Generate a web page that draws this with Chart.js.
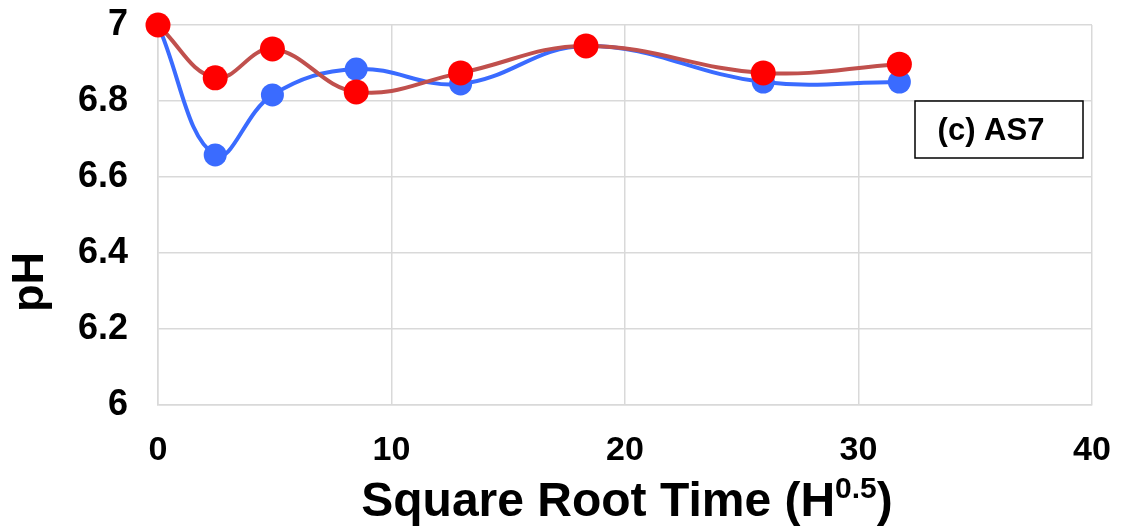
<!DOCTYPE html>
<html>
<head>
<meta charset="utf-8">
<script src="https://cdn.jsdelivr.net/npm/chart.js@4"></script>
<style>
    html, body { margin: 0; padding: 0; background: #fff; }
    #wrap { width: 1123px; height: 530px; }
</style>
</head>
<body>
<div id="wrap"><canvas id="PhChart" width="1123" height="530"></canvas></div>
<script>
// square root time (h^0.5)
const sqrtTime = [0, 2.45, 4.90, 8.49, 12.96, 18.33, 25.92, 31.75];
const phBlue = [7.00, 6.658, 6.816, 6.884, 6.845, 6.945, 6.850, 6.850];
const phRed = [7.00, 6.861, 6.937, 6.824, 6.874, 6.945, 6.874, 6.897];
const yTicks = ["6", "6.2", "6.4", "6.6", "6.8", "7"];
const xTicks = ["0", "10", "20", "30", "40"];
const panelLabel = "(c) AS7";

const FONT = "'Liberation Sans', Arial, sans-serif";

function toPoints(xs, ys) {
    return xs.map(function (x, i) { return { x: x, y: ys[i] }; });
}

// axis titles (x has a superscript) + the panel label box
const extrasPlugin = {
    id: "extras",
    afterDraw: function (chart) {
        const ctx = chart.ctx;
        const area = chart.chartArea;
        ctx.save();
        // x title
        const main = "Square Root Time (H";
        const sup = "0.5";
        const tail = ")";
        ctx.font = "bold 48px " + FONT;
        const wMain = ctx.measureText(main).width;
        const wTail = ctx.measureText(tail).width;
        ctx.font = "bold 30px " + FONT;
        const wSup = ctx.measureText(sup).width;
        const total = wMain + wSup + wTail;
        let x = (area.left + area.right) / 2 - total / 2 + 2;
        const base = 516;
        ctx.fillStyle = "#000";
        ctx.textBaseline = "alphabetic";
        ctx.textAlign = "left";
        ctx.font = "bold 48px " + FONT;
        ctx.fillText(main, x, base);
        x += wMain;
        ctx.font = "bold 30px " + FONT;
        ctx.fillText(sup, x, base - 18);
        x += wSup;
        ctx.font = "bold 48px " + FONT;
        ctx.fillText(tail, x, base);

        // y title
        ctx.save();
        ctx.translate(31, 282);
        ctx.rotate(-Math.PI / 2);
        ctx.font = "bold 45px " + FONT;
        ctx.textAlign = "center";
        ctx.textBaseline = "middle";
        ctx.fillText("pH", 0, 0);
        ctx.restore();

        // panel label box
        const bx = area.right - 177, by = area.top + 76, bw = 168, bh = 57;
        ctx.lineWidth = 1.5;
        ctx.strokeStyle = "#000";
        ctx.fillStyle = "#fff";
        ctx.fillRect(bx, by, bw, bh);
        ctx.strokeRect(bx, by, bw, bh);
        ctx.fillStyle = "#000";
        ctx.font = "bold 31px " + FONT;
        ctx.textAlign = "center";
        ctx.textBaseline = "middle";
        ctx.fillText(panelLabel, bx + bw / 2 - 8, by + bh / 2 + 2);
        ctx.restore();
    }
};

const phChart = new Chart(document.getElementById("PhChart"), {
    type: "line",
    data: {
        datasets: [
            {
                label: "Blue",
                data: toPoints(sqrtTime, phBlue),
                borderColor: "#3A6BFF",
                backgroundColor: "#3A6BFF",
                borderWidth: 4,
                pointRadius: 11.5,
                pointBorderWidth: 0,
                pointBackgroundColor: "#3A6BFF",
                tension: 0.4,
                clip: false,
                order: 2
            },
            {
                label: "Red",
                data: toPoints(sqrtTime, phRed),
                borderColor: "#C0504D",
                backgroundColor: "#FF0000",
                borderWidth: 4,
                pointRadius: 12.5,
                pointBorderWidth: 0,
                pointBackgroundColor: "#FF0000",
                tension: 0.4,
                clip: false,
                order: 1
            }
        ]
    },
    options: {
        responsive: false,
        animation: false,
        layout: {
            padding: { left: 0, right: 31, top: 25, bottom: 0 }
        },
        plugins: {
            legend: { display: false },
            tooltip: { enabled: false }
        },
        scales: {
            x: {
                type: "linear",
                min: 0,
                max: 40,
                ticks: {
                    stepSize: 10,
                    padding: 25,
                    color: "#000",
                    font: { family: FONT, size: 34, weight: "bold" },
                    callback: function (value) {
                        const i = xTicks.indexOf(String(value));
                        return i >= 0 ? xTicks[i] : "";
                    }
                },
                grid: { color: "#D9D9D9", lineWidth: 1.5, drawTicks: false },
                border: { color: "#D9D9D9", width: 1.5 },
                afterFit: function (scale) {
                    scale.height = 125;
                    scale.paddingLeft = 0;
                    scale.paddingRight = 0;
                }
            },
            y: {
                min: 6,
                max: 7,
                ticks: {
                    stepSize: 0.2,
                    padding: 30,
                    color: "#000",
                    font: { family: FONT, size: 36, weight: "bold" },
                    callback: function (value, index) {
                        return yTicks[index];
                    }
                },
                grid: { color: "#D9D9D9", lineWidth: 1.5, drawTicks: false },
                border: { color: "#D9D9D9", width: 1.5 },
                afterFit: function (scale) {
                    scale.width = 158;
                    scale.paddingTop = 0;
                    scale.paddingBottom = 0;
                }
            }
        }
    },
    plugins: [extrasPlugin]
});
</script>
</body>
</html>
